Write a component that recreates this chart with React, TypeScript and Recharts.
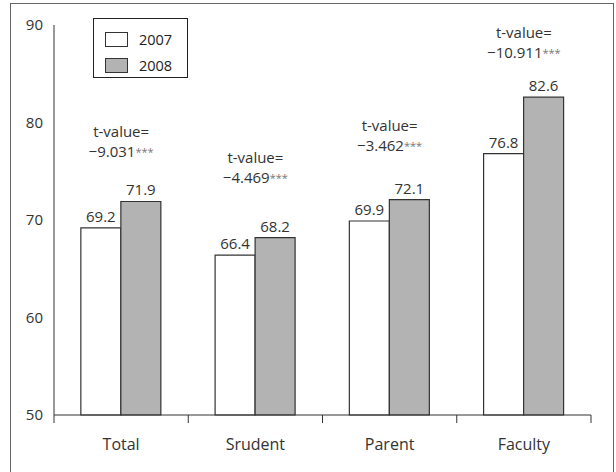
import React from 'react';
import {
  ComposedChart,
  Bar,
  Scatter,
  XAxis,
  YAxis,
  Legend,
  LabelList,
} from 'recharts';

const categories = ['Total', 'Srudent', 'Parent', 'Faculty'];
const score2007 = [69.2, 66.4, 69.9, 76.8];
const score2008 = [71.9, 68.2, 72.1, 82.6];
const tValues = ['9.031', '4.469', '3.462', '10.911'];
// where the t-value note sits
const tLabelY = [79.1, 76.5, 79.7, 89.3];
const yTicks = [50, 60, 70, 80, 90];

const data = categories.map((name, i) => ({
  name,
  y2007: score2007[i],
  y2008: score2008[i],
  t: tValues[i],
  tY: tLabelY[i],
}));

const FONT = '"Open Sans", sans-serif';
const INK = '#333';
const LABEL_GAP = 24;

function TNote(props: any) {
  const { cx, cy, payload } = props;
  if (cx == null || cy == null) return null;
  return (
    <text
      x={cx}
      y={cy}
      textAnchor="middle"
      dominantBaseline="central"
      fontSize={15}
      fontFamily={FONT}
      fill={INK}
    >
      <tspan x={cx} dy={0}>t-value=</tspan>
      <tspan x={cx} dy={20}>{'\u2212' + payload.t}</tspan>
      <tspan fontSize={11} fill="#777">***</tspan>
    </text>
  );
}

// category label plus the tick marks that sit on the group edges
function GroupTick(props: any) {
  const { x, y, payload, index, visibleTicksCount, width } = props;
  const count = visibleTicksCount || 4;
  const half = Number(width) > 0 ? Number(width) / count / 2 : payload.offset || 67;
  const axisY = y - LABEL_GAP;
  const last = index === count - 1;
  return (
    <g>
      <line x1={x - half} x2={x - half} y1={axisY} y2={axisY + 8} stroke={INK} strokeWidth={1} />
      {last && <line x1={x + half} x2={x + half} y1={axisY} y2={axisY + 8} stroke={INK} strokeWidth={1} />}
      <text x={x} y={y} dy="0.71em" textAnchor="middle" fontSize={16} fill={INK} fontFamily={FONT}>
        {payload.value}
      </text>
    </g>
  );
}

function LegendBox(props: any) {
  const items = (props.payload || []).filter((p: any) => p.type !== 'none');
  return (
    <div
      style={{
        width: 95,
        height: 60,
        boxSizing: 'border-box',
        border: '1.5px solid #222',
        background: '#fff',
        padding: '7px 0 0 11px',
        fontFamily: FONT,
        fontSize: 14.5,
        color: '#222',
      }}
    >
      {items.map((p: any) => (
        <div key={p.value} style={{ display: 'flex', alignItems: 'center', height: 26 }}>
          <span
            style={{
              display: 'inline-block',
              width: 23,
              height: 15,
              boxSizing: 'border-box',
              border: '1.2px solid #333',
              background: p.color,
              marginRight: 11,
            }}
          />
          <span>{p.value}</span>
        </div>
      ))}
    </div>
  );
}

export default function App() {
  return (
    <div style={{ position: 'absolute', left: 0, top: 0, width: 616, height: 472 }}>
      <ComposedChart
        width={616}
        height={472}
        data={data}
        margin={{ top: 25, right: 25, bottom: 27, left: 0 }}
        barGap={0}
        barCategoryGap="20%"
      >
        <XAxis
          dataKey="name"
          interval={0}
          height={30}
          stroke={INK}
          tickLine={false}
          tickSize={0}
          tickMargin={LABEL_GAP}
          tick={<GroupTick />}
        />
        <YAxis
          domain={[50, 90]}
          ticks={yTicks}
          width={54}
          tickLine={false}
          tickSize={0}
          tickMargin={11}
          stroke={INK}
          tick={{ fontSize: 15, fill: INK, fontFamily: FONT }}
        />
        <Legend
          layout="horizontal"
          verticalAlign="middle"
          align="center"
          content={<LegendBox />}
          wrapperStyle={{ position: 'absolute', left: 93, top: 18, width: 95, height: 60 }}
        />
        <Bar dataKey="y2007" name="2007" fill="#ffffff" stroke={INK} strokeWidth={1.2} isAnimationActive={false}>
          <LabelList dataKey="y2007" position="top" offset={6} fill={INK} fontSize={15} fontFamily={FONT} />
        </Bar>
        <Bar dataKey="y2008" name="2008" fill="#b3b3b3" stroke={INK} strokeWidth={1.2} isAnimationActive={false}>
          <LabelList dataKey="y2008" position="top" offset={6} fill={INK} fontSize={15} fontFamily={FONT} />
        </Bar>
        <Scatter dataKey="tY" legendType="none" shape={<TNote />} isAnimationActive={false} />
      </ComposedChart>
      <div
        style={{
          position: 'absolute',
          left: 10,
          top: 3,
          width: 604,
          height: 470,
          boxSizing: 'border-box',
          border: '1.5px solid #666',
          pointerEvents: 'none',
          zIndex: 2,
        }}
      />
    </div>
  );
}
